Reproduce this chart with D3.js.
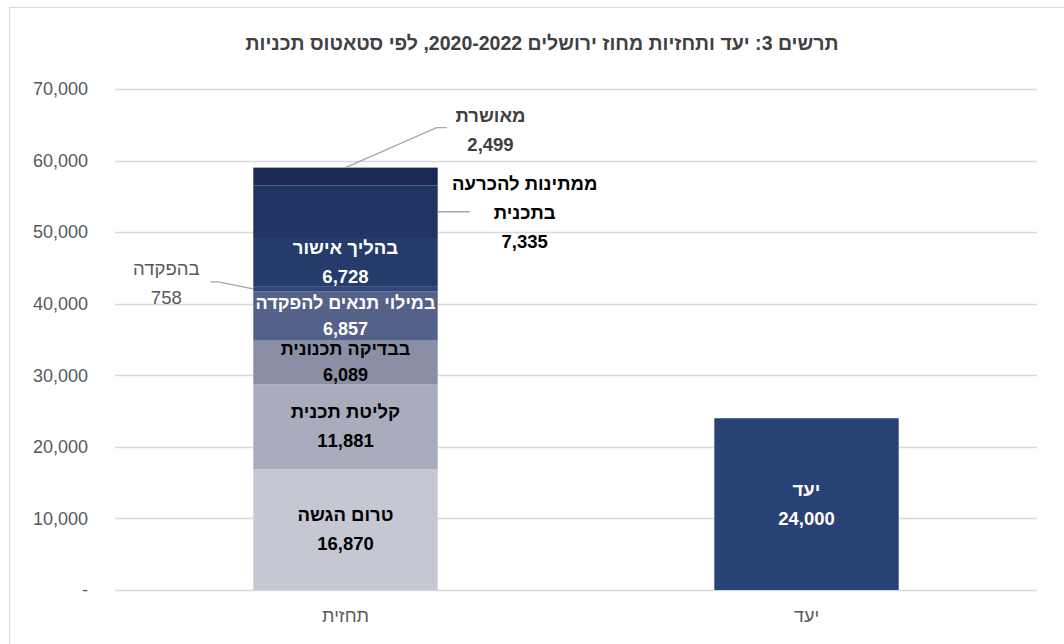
<!DOCTYPE html>
<html>
<head>
<meta charset="utf-8">
<title>תחזית ויעד</title>
<script src="https://cdn.jsdelivr.net/npm/d3@7"></script>
<style>
  body { margin: 0; background: #fff; }
  svg text { font-family: "Liberation Sans", Arial, sans-serif; }
</style>
</head>
<body>
<svg id="chart" width="1064" height="644"></svg>
<script>
// data
var categories = ["תחזית", "יעד"];
var stageNames = ["טרום הגשה", "קליטת תכנית", "בבדיקה תכנונית", "במילוי תנאים להפקדה", "בהפקדה", "בהליך אישור", "ממתינות להכרעה בתכנית", "מאושרת"];
var stageValues = [16870, 11881, 6089, 6857, 758, 6728, 7335, 2499];
var targetName = "יעד";
var targetValue = 24000;
var yTicks = [0, 10000, 20000, 30000, 40000, 50000, 60000, 70000];
var title = "תרשים 3: יעד ותחזיות מחוז ירושלים 2020-2022, לפי סטאטוס תכניות";

var stageColors = ["#c5c7d2", "#a9acbd", "#8a8fa6", "#546289", "#2f4678", "#243b6c", "#1f3461", "#1b2a52"];
var stageText = ["#000", "#000", "#000", "#fff", null, "#fff", null, null];
var targetColor = "#294276";

var svg = d3.select("#chart"),
    margin = {top: 89, right: 27, bottom: 54, left: 115},
    width = +svg.attr("width") - margin.left - margin.right,
    height = +svg.attr("height") - margin.top - margin.bottom;

// outer frame
svg.append("rect")
    .attr("x", 9.5).attr("y", 7.5)
    .attr("width", 1100).attr("height", 700)
    .attr("fill", "none").attr("stroke", "#d9d9d9");

svg.append("text")
    .attr("x", 542).attr("y", 50)
    .attr("text-anchor", "middle")
    .attr("direction", "rtl")
    .attr("font-size", 19.5).attr("font-weight", "bold")
    .attr("fill", "#404040")
    .text(title);

var x = d3.scaleBand().domain(categories).range([0, width]).paddingInner(0.6).paddingOuter(0.3),
    y = d3.scaleLinear().domain([0, 70000]).range([height, 0]);

var g = svg.append("g").attr("transform", "translate(" + margin.left + "," + margin.top + ")");

// gridlines
g.append("g").selectAll("line").data(yTicks).enter().append("line")
    .attr("x1", 0).attr("x2", width)
    .attr("y1", function(d) { return Math.round(y(d)) + 0.5; })
    .attr("y2", function(d) { return Math.round(y(d)) + 0.5; })
    .attr("stroke", "#d9d9d9").attr("stroke-width", 1.3);

// y axis
var yAxis = d3.axisLeft(y).tickValues(yTicks).tickSize(0).tickPadding(27)
    .tickFormat(function(d) { return d === 0 ? "-" : d3.format(",")(d); });
g.append("g").call(yAxis)
    .call(function(a) { a.select(".domain").remove(); })
    .selectAll("text")
    .attr("font-size", 18).attr("fill", "#595959")
    .attr("font-family", "Liberation Sans, Arial, sans-serif");

// x axis
g.append("g").attr("transform", "translate(0," + height + ")")
    .call(d3.axisBottom(x).tickSize(0).tickPadding(19))
    .call(function(a) { a.select(".domain").remove(); })
    .selectAll("text")
    .attr("font-size", 18).attr("fill", "#595959")
    .attr("font-family", "Liberation Sans, Arial, sans-serif");

// stacked bar
var stack = [];
var acc = 0;
stageValues.forEach(function(v, i) {
  stack.push({name: stageNames[i], value: v, y0: acc, y1: acc + v, color: stageColors[i], text: stageText[i]});
  acc += v;
});

var bx = x(categories[0]), bw = x.bandwidth();

g.append("g").selectAll("rect").data(stack).enter().append("rect")
    .attr("x", bx).attr("width", bw)
    .attr("y", function(d) { return y(d.y1); })
    .attr("height", function(d) { return y(d.y0) - y(d.y1); })
    .attr("fill", function(d) { return d.color; });

function label(sel, cx, cy, lines, color, bold, lh, fs) {
  lh = lh || 29;
  var t = sel.append("text")
      .attr("text-anchor", "middle")
      .attr("direction", "rtl")
      .attr("font-size", fs || 18.5)
      .attr("font-weight", bold ? "bold" : "normal")
      .attr("fill", color);
  var start = cy - (lines.length - 1) * lh / 2 + 6;
  lines.forEach(function(l, i) {
    t.append("tspan").attr("x", cx).attr("y", start + i * lh).text(l);
  });
}

var fmt = d3.format(",");
stack.forEach(function(d, i) {
  var tight = (i === 2 || i === 3);
  if (d.text) label(g, bx + bw / 2, y((d.y0 + d.y1) / 2), [d.name, fmt(d.value)], d.text, true,
                    tight ? 26 : 29, tight ? 18 : 18.5);
});

// outside labels with leader lines
var lc = "#a6a6a6";
var s4 = stack[4], s6 = stack[6], s7 = stack[7];

// בהפקדה
var ly4 = y((s4.y0 + s4.y1) / 2);
g.append("polyline")
    .attr("points", [[bx - 43, ly4 - 7], [bx - 35, ly4 - 7], [bx, ly4]].join(" "))
    .attr("fill", "none").attr("stroke", lc).attr("stroke-width", 1.3);
label(g, bx - 87, ly4 - 5, [s4.name, fmt(s4.value)], "#595959", false);

// ממתינות להכרעה בתכנית
var ly6 = y((s6.y0 + s6.y1) / 2);
g.append("line")
    .attr("x1", bx + bw).attr("x2", bx + bw + 32)
    .attr("y1", ly6).attr("y2", ly6)
    .attr("stroke", lc).attr("stroke-width", 1.3);
label(g, bx + bw + 87, ly6 + 1, ["ממתינות להכרעה", "בתכנית", fmt(s6.value)], "#000", true);

// מאושרת
var ly7 = y(s7.y1);
g.append("polyline")
    .attr("points", [[bx + bw / 2, ly7], [bx + bw / 2 + 91, ly7 - 40], [bx + bw / 2 + 101, ly7 - 40]].join(" "))
    .attr("fill", "none").attr("stroke", lc).attr("stroke-width", 1.3);
label(g, bx + bw / 2 + 145, ly7 - 37, [s7.name, fmt(s7.value)], "#404040", true);

// target bar
var tx = x(categories[1]);
g.append("rect")
    .attr("x", tx).attr("width", bw)
    .attr("y", y(targetValue)).attr("height", y(0) - y(targetValue))
    .attr("fill", targetColor);
label(g, tx + bw / 2, y(targetValue / 2), [targetName, fmt(targetValue)], "#fff", true);
</script>
</body>
</html>
